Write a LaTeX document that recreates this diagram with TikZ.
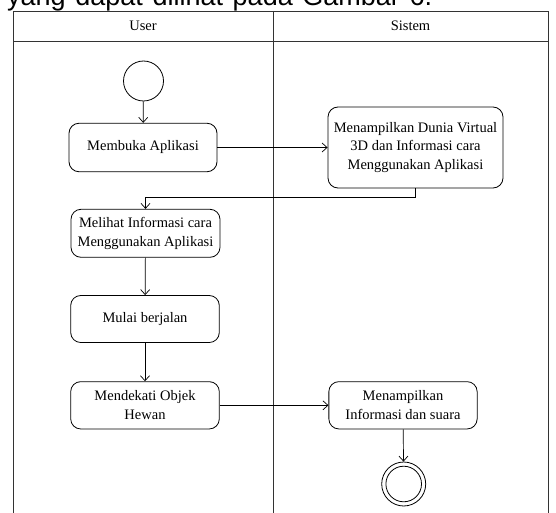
\documentclass[tikz,border=0pt]{standalone}
\usepackage{fontspec}
\setmainfont{Liberation Serif}
\newfontfamily\arialf{Liberation Sans}
\usetikzlibrary{arrows.meta}
\begin{document}
\begin{tikzpicture}[x=1pt,y=-1pt,
  act/.style={draw, rounded corners=10pt, line width=0.8pt, inner sep=0pt, align=center,
    font=\fontsize{14.5}{18.7}\selectfont},
  lane/.style={line width=0.8pt, draw=black!80},
  flow/.style={line width=0.7pt, -{Straight Barb[length=5pt,width=9pt]}},
  hdr/.style={font=\fontsize{14.5}{17}\selectfont, inner sep=0pt}
]
\useasboundingbox (0,0) rectangle (556,513);
\begin{scope}
\clip (0,0) rectangle (556,513);
\node[anchor=base west, inner sep=0pt, font=\arialf\fontsize{27}{30}\selectfont] (para) at (7,5.5)
  {\makebox[425pt][s]{yang dapat dilihat pada Gambar 6.}};
\end{scope}
% swimlanes
\draw[lane] (13,513) -- (13,11) -- (548,11) -- (548,513);
\draw[lane] (13,41) -- (548,41);
\draw[lane] (273,11) -- (273,513);
\node[hdr] (huser) at (143,26) {User};
\node[hdr] (hsis) at (410.5,26) {Sistem};
% nodes
\node[draw, circle, minimum size=40pt, inner sep=0pt, line width=0.8pt] (start) at (143.5,81) {};
\node[act, minimum width=148pt, minimum height=48.5pt] (membuka) at (143,147.5) {Membuka Aplikasi};
\node[act, minimum width=175pt, minimum height=81pt] (dunia) at (415.5,147.5)
  {Menampilkan Dunia Virtual\\3D dan Informasi cara\\Menggunakan Aplikasi};
\node[act, minimum width=149pt, minimum height=48pt] (melihat) at (145.5,233.3)
  {Melihat Informasi cara\\Menggunakan Aplikasi};
\node[act, minimum width=148.6pt, minimum height=47pt] (mulai) at (145,319) {Mulai berjalan};
\node[act, minimum width=148.6pt, minimum height=47.3pt] (mendekati) at (145,405.3)
  {Mendekati Objek\\Hewan};
\node[act, minimum width=148.3pt, minimum height=47.3pt] (info) at (403,405.3)
  {Menampilkan\\Informasi dan suara};
\node[draw, circle, minimum size=44pt, inner sep=0pt, line width=0.8pt] (stop) at (403.7,484) {};
\node[draw, circle, minimum size=35.6pt, inner sep=0pt, line width=0.8pt] (stopin) at (stop.center) {};
% flows
\draw[flow] (start) -- (membuka);
\draw[flow] (membuka.east) -- (dunia.west);
\draw[flow] (dunia.south) -- ++(0,9.2) -| (melihat.north);
\draw[flow] (melihat) -- (mulai);
\draw[flow] (mulai) -- (mendekati);
\draw[flow] (mendekati.east) -- (info.west);
\draw[flow] (info) -- (stop);
\end{tikzpicture}
\end{document}
